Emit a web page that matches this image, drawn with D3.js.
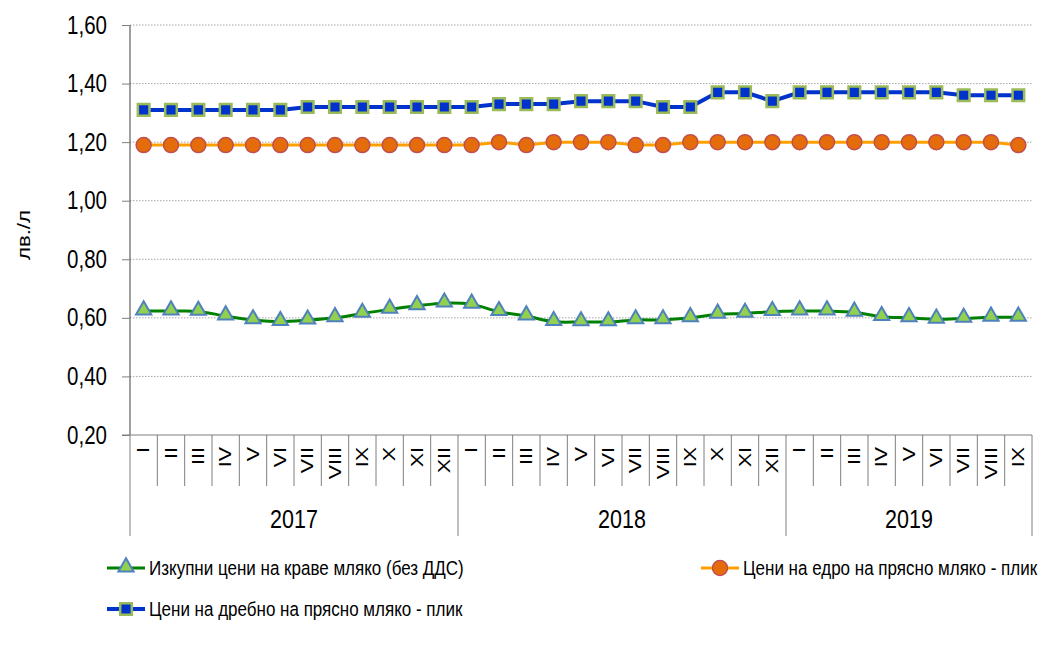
<!DOCTYPE html>
<html>
<head>
<meta charset="utf-8">
<script src="https://cdn.jsdelivr.net/npm/d3@7"></script>
<style>
  body { margin: 0; background: #fff; }
  svg text { font-family: "Liberation Sans", Arial, sans-serif; fill: #000; }
</style>
</head>
<body>
<div id="chart"></div>
<script>
// months per year, as shown on the axis
const years = ['2017', '2018', '2019'];
const monthsPerYear = [12, 12, 9];
const romans = ['I', 'II', 'III', 'IV', 'V', 'VI', 'VII', 'VIII', 'IX', 'X', 'XI', 'XII'];

const yTicks = [0.2, 0.4, 0.6, 0.8, 1.0, 1.2, 1.4, 1.6];

// purchase prices of cow milk (without VAT)
const purchase = [
  0.623, 0.623, 0.622, 0.606, 0.593, 0.587, 0.592, 0.600, 0.615, 0.629, 0.641, 0.650,
  0.646, 0.621, 0.606, 0.587, 0.586, 0.586, 0.593, 0.593, 0.600, 0.612, 0.615, 0.621,
  0.623, 0.623, 0.619, 0.604, 0.600, 0.595, 0.598, 0.602, 0.602
];
// wholesale prices of fresh milk - bag
const wholesale = [
  1.19, 1.19, 1.19, 1.19, 1.19, 1.19, 1.19, 1.19, 1.19, 1.19, 1.19, 1.19,
  1.19, 1.20, 1.19, 1.20, 1.20, 1.20, 1.19, 1.19, 1.20, 1.20, 1.20, 1.20,
  1.20, 1.20, 1.20, 1.20, 1.20, 1.20, 1.20, 1.20, 1.19
];
// retail prices of fresh milk - bag
const retail = [
  1.31, 1.31, 1.31, 1.31, 1.31, 1.31, 1.32, 1.32, 1.32, 1.32, 1.32, 1.32,
  1.32, 1.33, 1.33, 1.33, 1.34, 1.34, 1.34, 1.32, 1.32, 1.37, 1.37, 1.34,
  1.37, 1.37, 1.37, 1.37, 1.37, 1.37, 1.36, 1.36, 1.36
];

const seriesNames = [
  'Изкупни цени на краве мляко (без ДДС)',
  'Цени на едро на прясно мляко - плик',
  'Цени на дребно на прясно мляко - плик'
];

const width = 1051, height = 648;
const plotLeft = 130, plotRight = 1032, plotTop = 25, plotBottom = 435;
// the source picture is a bit taller than wide, text looks stretched vertically
const stretch = 1.23;

// flat list of categories
const cats = [];
years.forEach((yr, yi) => {
  for (let m = 0; m < monthsPerYear[yi]; m++) cats.push({ year: yr, month: romans[m], idx: cats.length });
});

const svg = d3.select('#chart').append('svg')
  .attr('width', width)
  .attr('height', height);

const x = d3.scaleBand().domain(cats.map(d => d.idx)).range([plotLeft, plotRight]).padding(0);
const y = d3.scaleLinear().domain([0.2, 1.6]).range([plotBottom, plotTop]);
const cx = i => x(i) + x.bandwidth() / 2;

const fmt = v => d3.format('.2f')(v).replace('.', ',');

// gridlines
svg.append('g')
  .selectAll('line')
  .data(yTicks.slice(1))
  .enter().append('line')
  .attr('x1', plotLeft).attr('x2', plotRight)
  .attr('y1', d => y(d)).attr('y2', d => y(d))
  .attr('stroke', '#a6a6a6')
  .attr('stroke-dasharray', '1.5,1.5')
  .attr('stroke-width', 1);

// y axis
const yAxis = svg.append('g')
  .attr('transform', `translate(${plotLeft},0)`)
  .call(d3.axisLeft(y).tickValues(yTicks).tickFormat(fmt).tickSize(8).tickPadding(15));
yAxis.select('.domain').attr('stroke', '#404040').attr('d', `M0,${plotTop}V${plotBottom}`);
yAxis.selectAll('.tick line').attr('stroke', '#7f7f7f');
yAxis.selectAll('.tick text')
  .style('font-size', '20.5px')
  .attr('fill', '#000')
  .attr('transform', `scale(1,${stretch})`);

svg.append('text')
  .attr('transform', `translate(24,${(plotTop + plotBottom) / 2 + 5}) scale(1,${stretch}) rotate(-90)`)
  .attr('text-anchor', 'middle')
  .attr('dy', '0.35em')
  .style('font-size', '18px')
  .text('лв./л');

// x axis line
svg.append('line')
  .attr('x1', plotLeft - 8).attr('x2', plotRight)
  .attr('y1', plotBottom).attr('y2', plotBottom)
  .attr('stroke', '#7f7f7f');

// category separators
const yearStarts = [];
let acc = 0;
monthsPerYear.forEach(n => { yearStarts.push(acc); acc += n; });
const boundaries = d3.range(cats.length + 1);
svg.append('g')
  .selectAll('line')
  .data(boundaries)
  .enter().append('line')
  .attr('x1', i => i < cats.length ? x(i) : plotRight)
  .attr('x2', i => i < cats.length ? x(i) : plotRight)
  .attr('y1', plotBottom)
  .attr('y2', i => (yearStarts.includes(i) || i === cats.length) ? 536 : 486)
  .attr('stroke', '#7f7f7f');

// month labels
svg.append('g')
  .selectAll('text')
  .data(cats)
  .enter().append('text')
  .attr('transform', d => `translate(${cx(d.idx)},447) scale(1,1.3) rotate(-90)`)
  .attr('text-anchor', 'end')
  .attr('dy', '0.35em')
  .style('font-size', '16.5px')
  .text(d => d.month);

// year labels
svg.append('g')
  .selectAll('text')
  .data(years)
  .enter().append('text')
  .attr('transform', (d, i) => {
    const mid = (x(yearStarts[i]) + (i + 1 < years.length ? x(yearStarts[i + 1]) : plotRight)) / 2;
    return `translate(${mid},528) scale(1,${stretch})`;
  })
  .attr('text-anchor', 'middle')
  .style('font-size', '21.5px')
  .text(d => d);

// series
const green = { data: purchase, line: '#008000', lw: 3, curve: d3.curveCatmullRom };
const orange = { data: wholesale, line: '#ffa000', lw: 3, curve: d3.curveLinear };
const blue = { data: retail, line: '#0033cc', lw: 4, curve: d3.curveLinear };

[green, orange, blue].forEach(s => {
  svg.append('path')
    .datum(s.data)
    .attr('fill', 'none')
    .attr('stroke', s.line)
    .attr('stroke-width', s.lw)
    .attr('d', d3.line().x((d, i) => cx(i)).y(d => y(d)).curve(s.curve));
});

const triangle = d3.symbol().type(d3.symbolTriangle).size(100);
const square = d3.symbol().type(d3.symbolSquare).size(135);

function drawTriangle(g, px, py) {
  g.append('path').attr('d', triangle())
    .attr('transform', `translate(${px},${py - 1})`)
    .attr('fill', '#92d050').attr('stroke', '#4f81bd').attr('stroke-width', 2);
}
function drawCircle(g, px, py) {
  g.append('circle').attr('cx', px).attr('cy', py).attr('r', 7.5)
    .attr('fill', '#e46c0a').attr('stroke', '#c0504d').attr('stroke-width', 1.5);
}
function drawSquare(g, px, py) {
  g.append('path').attr('d', square())
    .attr('transform', `translate(${px},${py})`)
    .attr('fill', '#0033cc').attr('stroke', '#9bbb59').attr('stroke-width', 2.5);
}

const markers = svg.append('g');
purchase.forEach((v, i) => drawTriangle(markers, cx(i), y(v)));
wholesale.forEach((v, i) => drawCircle(markers, cx(i), y(v)));
retail.forEach((v, i) => drawSquare(markers, cx(i), y(v)));

// legend
const legendItems = [
  { name: seriesNames[0], color: green.line, lw: 3, mark: drawTriangle, x: 107, y: 568 },
  { name: seriesNames[1], color: orange.line, lw: 3, mark: drawCircle, x: 701, y: 568 },
  { name: seriesNames[2], color: blue.line, lw: 4, mark: drawSquare, x: 107, y: 609 }
];
const legend = svg.append('g');
legendItems.forEach(it => {
  legend.append('line')
    .attr('x1', it.x).attr('x2', it.x + 38)
    .attr('y1', it.y).attr('y2', it.y)
    .attr('stroke', it.color).attr('stroke-width', it.lw);
  it.mark(legend, it.x + 19, it.y);
  legend.append('text')
    .attr('transform', `translate(${it.x + 42},${it.y}) scale(1,${stretch})`)
    .attr('dy', '0.35em')
    .style('font-size', '17px')
    .text(it.name);
});
</script>
</body>
</html>
